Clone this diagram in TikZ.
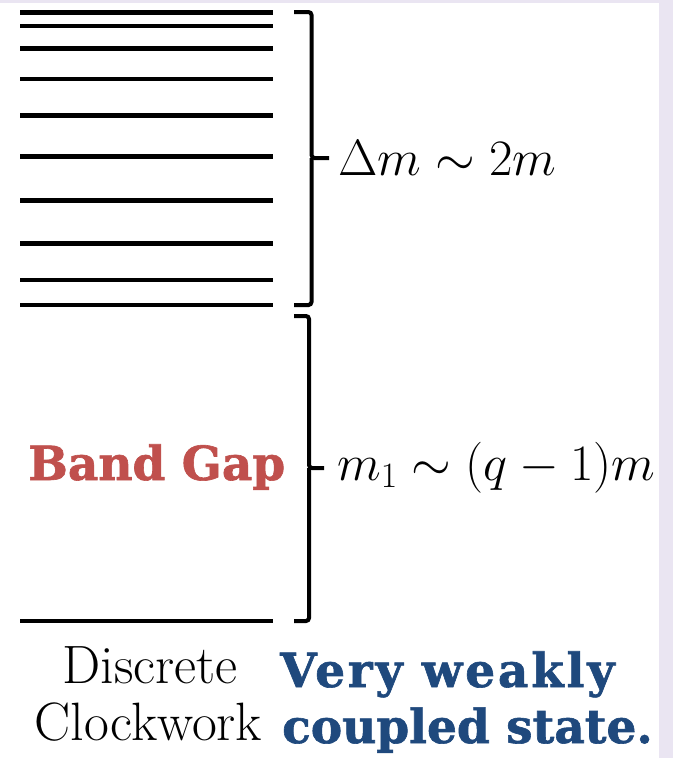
\documentclass[tikz,border=0pt]{standalone}
\usepackage{fix-cm}
\usepackage{fontspec}
\newfontfamily\slabfont{DejaVu Serif}[BoldFeatures={FakeBold=1.3}]
\definecolor{bgLav}{RGB}{234,229,242}
\definecolor{gapRed}{RGB}{192,80,77}
\definecolor{noteBlue}{RGB}{31,73,125}
\tikzset{
  level/.style={line width=4.5pt, line cap=butt},
  bracepath/.style={line width=4pt, line cap=butt, line join=miter},
  mathtext/.style={inner sep=0pt, font=\fontsize{51}{60}\selectfont},
  romantext/.style={inner sep=0pt, font=\fontsize{54}{62}\selectfont},
  slabtext/.style={inner sep=0pt, font=\fontsize{47}{56}\selectfont\slabfont\bfseries},
}
\begin{document}
\begin{tikzpicture}[x=1pt,y=-1pt]
\useasboundingbox (0,0) rectangle (673,758);
\fill[bgLav] (0,0) rectangle (673,758);
\fill[white] (0,3) rectangle (659,758);
% levels
\foreach \yy [count=\i] in {12.3,26,48.7,79,115.7,156.7,200.7,243.3,280,305,621}{
  \coordinate (l\i a) at (20,\yy);
  \coordinate (l\i b) at (273,\yy);
  \draw[level] (l\i a) -- (l\i b);
}
% upper brace
\coordinate (ubt) at (294,12);
\coordinate (ubb) at (294,305);
\coordinate (ubtip) at (329,158);
\draw[bracepath,rounded corners=3pt] (ubt) -- (311.5,12) -- (311.5,158) -- (ubtip);
\draw[bracepath,rounded corners=3pt] (ubb) -- (311.5,305) -- (311.5,158);
% lower brace
\coordinate (lbt) at (294,316);
\coordinate (lbb) at (294,621);
\coordinate (lbtip) at (324,468);
\draw[bracepath,rounded corners=3pt] (lbt) -- (309,316) -- (309,468) -- (lbtip);
\draw[bracepath,rounded corners=3pt] (lbb) -- (309,621) -- (309,468);
% labels
\node[mathtext,anchor=base west] (dm) at (338,175) {$\Delta m\sim 2m$};
\node[mathtext,anchor=base west] (m1) at (337,480) {$m_1\sim (q-1)m$};
\node[slabtext,text=gapRed,anchor=base west] (gap) at (28,480) {Band Gap};
\node[romantext,anchor=base] (disc) at (150,683) {Discrete};
\node[romantext,anchor=base] (clock) at (148.5,740) {Clockwork};
\node[slabtext,text=noteBlue,anchor=base west] (very) at (280,687) {\addfontfeature{LetterSpace=6}Very weakly};
\node[slabtext,text=noteBlue,anchor=base west] (coup) at (282,743) {coupled state.};
\end{tikzpicture}
\end{document}
